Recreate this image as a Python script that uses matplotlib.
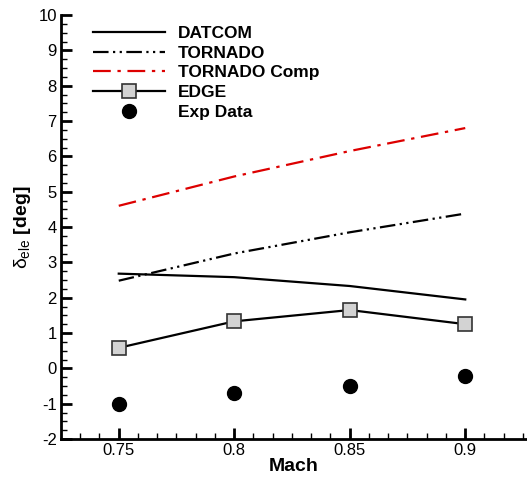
import numpy as np
import matplotlib
matplotlib.use("Agg")
import matplotlib.pyplot as plt

plt.rcParams['font.family'] = ['Liberation Sans', 'DejaVu Sans']
plt.rcParams['mathtext.fontset'] = 'custom'
plt.rcParams['mathtext.rm'] = 'Liberation Sans'
plt.rcParams['mathtext.it'] = 'Liberation Sans'
plt.rcParams['axes.unicode_minus'] = False

mach = [0.75, 0.8, 0.85, 0.9]
datcom = [2.68, 2.58, 2.33, 1.95]
tornado = [2.48, 3.25, 3.85, 4.38]
tornado_comp = [4.6, 5.43, 6.15, 6.8]
edge = [0.58, 1.33, 1.65, 1.25]
exp_data = [-1.0, -0.69, -0.5, -0.21]

fig = plt.figure(figsize=(5.27, 4.8), dpi=100)
ax = fig.add_axes([61/527, 41/480, 466/527, 424/480])

ax.plot(mach, datcom, color='black', lw=1.6, label='DATCOM')
ax.plot(mach, tornado, color='black', lw=1.6, dashes=[7, 2, 1, 2, 1, 2],
        label='TORNADO')
ax.plot(mach, tornado_comp, color='#dd0000', lw=1.6, dashes=[8, 3, 1.5, 3],
        label='TORNADO Comp')
ax.plot(mach, edge, color='black', lw=1.6, marker='s', ms=10,
        mfc='#d3d3d3', mec='#333333', mew=1.2, label='EDGE')
ax.plot(mach, exp_data, ls='none', marker='o', ms=10, color='black',
        label='Exp Data')

ax.set_xlim(0.725, 0.725 + 466/115.5*0.05)
ax.set_ylim(-2, 10)
ax.set_xticks(mach)
ax.set_xticklabels(['0.75', '0.8', '0.85', '0.9'])
ax.set_xticks(np.arange(0.7333, 0.93, 0.05/6), minor=True)
ax.set_yticks(range(-2, 11))
ax.set_yticks(np.arange(-2, 10.01, 0.25), minor=True)

for s in ['top', 'right']:
    ax.spines[s].set_visible(False)
for s in ['left', 'bottom']:
    ax.spines[s].set_linewidth(2)

ax.tick_params(which='major', direction='in', length=8, width=2,
               labelsize=12, pad=3)
ax.tick_params(which='minor', direction='in', length=4, width=1)

ax.set_xlabel('Mach', fontsize=14, fontweight='bold', labelpad=0)
ax.set_ylabel(r'$\delta_{ele}$ [deg]', fontsize=14, fontweight='bold',
              labelpad=4)

leg = ax.legend(loc='upper left', bbox_to_anchor=(0.0687, 0.975),
                frameon=False, borderpad=0, borderaxespad=0,
                handlelength=4.15, handletextpad=0.75, labelspacing=0.27,
                prop={'weight': 'bold', 'size': 12.5})

fig.savefig('out.png', dpi=100)
